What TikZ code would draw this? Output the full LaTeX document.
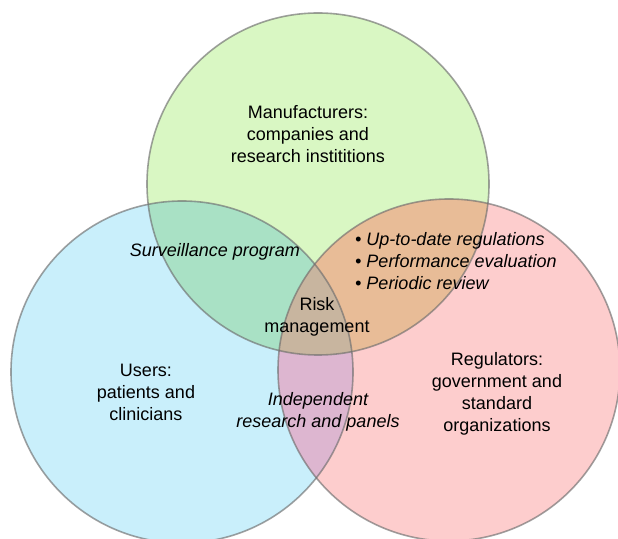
\documentclass[tikz,border=0pt]{standalone}
\usepackage{fontspec}
\setmainfont{Liberation Sans}
\definecolor{cg}{HTML}{D9F7C3}
\definecolor{cb}{HTML}{C9EFFB}
\definecolor{cr}{HTML}{FDCDCD}
\definecolor{cgb}{HTML}{A9E1C5}
\definecolor{cgr}{HTML}{E8BC97}
\definecolor{cbr}{HTML}{DDB6D0}
\definecolor{cgbr}{HTML}{C8B59F}
\definecolor{edgegray}{HTML}{6E6E6E}
\tikzset{
  rim/.style={draw=edgegray, draw opacity=0.65, line width=1.6pt},
  lbl/.style={font=\fontsize{18}{22}\selectfont, align=center, inner sep=0pt, text=black},
  ilbl/.style={lbl, font=\fontsize{18}{22}\selectfont\itshape},
}
\begin{document}
\begin{tikzpicture}[x=1pt,y=1pt]
\useasboundingbox (0,0) rectangle (618,538);
\fill[white] (0,0) rectangle (618,538);
\coordinate (G) at (318,354);
\coordinate (B) at (182,166);
\coordinate (R) at (449,168);
\def\rr{171}
\fill[cg] (G) circle (\rr);
\fill[cb] (B) circle (\rr);
\fill[cr] (R) circle (\rr);
\begin{scope}
  \clip (B) circle (\rr);
  \fill[cbr] (R) circle (\rr);
\end{scope}
\begin{scope}
  \clip (G) circle (\rr);
  \fill[cgb] (B) circle (\rr);
  \fill[cgr] (R) circle (\rr);
  \clip (B) circle (\rr);
  \fill[cgbr] (R) circle (\rr);
\end{scope}
\draw[rim] (G) circle (\rr);
\draw[rim] (B) circle (\rr);
\draw[rim] (R) circle (\rr);
\node[lbl] (manu) at (308,404) {Manufacturers:\\companies and\\research instititions};
\node[ilbl] (surv) at (215,286) {Surveillance program};
\node[ilbl, align=left, anchor=west] (bul) at (355,277) {\textbullet\ Up-to-date regulations\\\textbullet\ Performance evaluation\\\textbullet\ Periodic review};
\node[lbl] (risk) at (317,221) {Risk\\management};
\node[lbl] (users) at (146,146) {Users:\\patients and\\clinicians};
\node[ilbl] (indep) at (318,126) {Independent\\research and panels};
\node[lbl] (regu) at (497,144) {Regulators:\\government and\\standard\\organizations};
\end{tikzpicture}
\end{document}
